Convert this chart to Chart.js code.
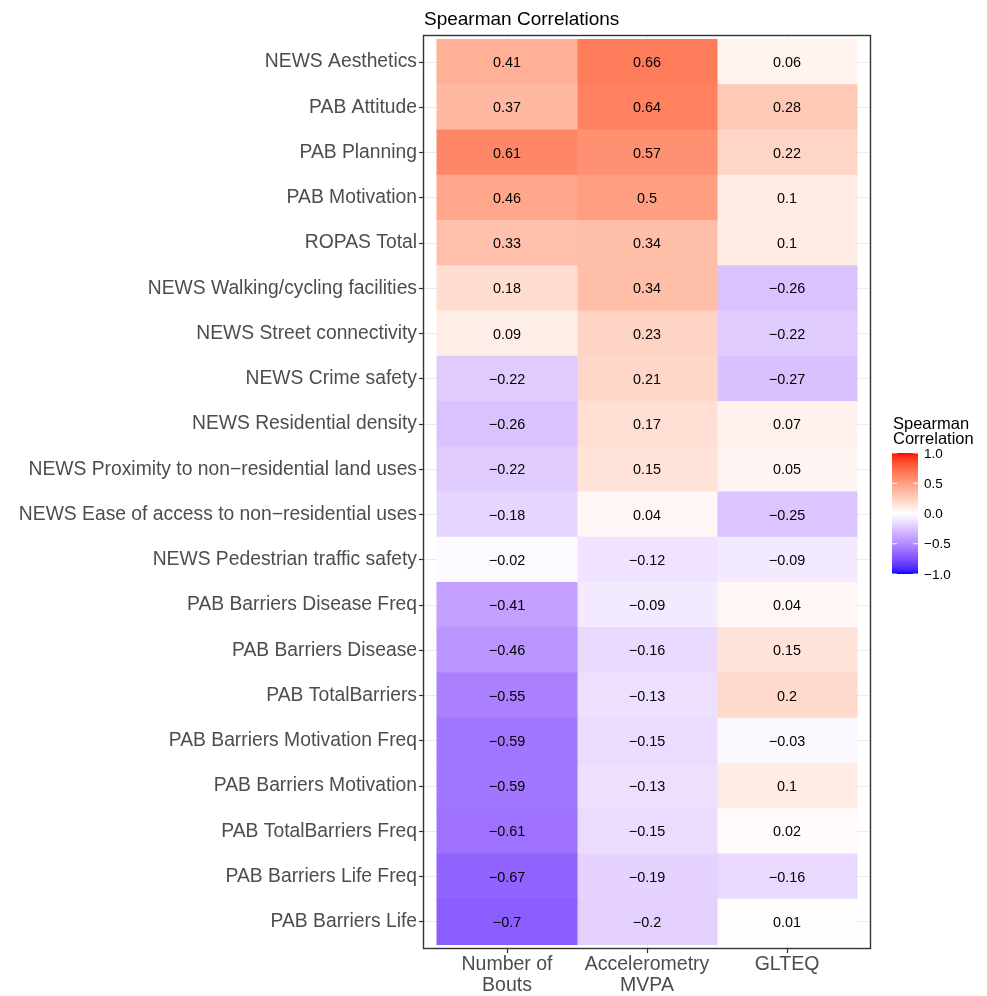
<!DOCTYPE html>
<html><head><meta charset="utf-8">
<script src="https://cdn.jsdelivr.net/npm/chart.js@4.4.1/dist/chart.umd.min.js"></script>
<style>html,body{margin:0;padding:0;background:#fff;}#wrap{width:987px;height:996px;position:relative;}</style>
</head><body><div id="wrap"><canvas id="c" width="987" height="996"></canvas></div>
<script>
const rowLabels = [
  "NEWS Aesthetics","PAB Attitude","PAB Planning","PAB Motivation","ROPAS Total",
  "NEWS Walking/cycling facilities","NEWS Street connectivity","NEWS Crime safety",
  "NEWS Residential density","NEWS Proximity to non\u2212residential land uses",
  "NEWS Ease of access to non\u2212residential uses","NEWS Pedestrian traffic safety",
  "PAB Barriers Disease Freq","PAB Barriers Disease","PAB TotalBarriers",
  "PAB Barriers Motivation Freq","PAB Barriers Motivation","PAB TotalBarriers Freq",
  "PAB Barriers Life Freq","PAB Barriers Life"
];
const colLabels = [["Number of","Bouts"],["Accelerometry","MVPA"],["GLTEQ"]];
const bouts = [0.41,0.37,0.61,0.46,0.33,0.18,0.09,-0.22,-0.26,-0.22,-0.18,-0.02,-0.41,-0.46,-0.55,-0.59,-0.59,-0.61,-0.67,-0.7];
const mvpa  = [0.66,0.64,0.57,0.5,0.34,0.34,0.23,0.21,0.17,0.15,0.04,-0.12,-0.09,-0.16,-0.13,-0.15,-0.13,-0.15,-0.19,-0.2];
const glteq = [0.06,0.28,0.22,0.1,0.1,-0.26,-0.22,-0.27,0.07,0.05,-0.25,-0.09,0.04,0.15,0.2,-0.03,0.1,0.02,-0.16,0.01];
const legendBreaks = [1.0,0.5,0.0,-0.5,-1.0];
const titleText = "Spearman Correlations";
const legendTitle = ["Spearman","Correlation"];

// --- Lab interpolation like scales::div_gradient_pal ---
function toLin(c){c/=255;return c<=0.04045?c/12.92:Math.pow((c+0.055)/1.055,2.4);}
function fromLin(c){const v=c<=0.0031308?12.92*c:1.055*Math.pow(c,1/2.4)-0.055;return Math.max(0,Math.min(255,Math.round(v*255)));}
const Xn=0.95047,Yn=1,Zn=1.08883;
function f(t){return t>0.008856?Math.cbrt(t):7.787*t+16/116;}
function finv(t){return t*t*t>0.008856?t*t*t:(t-16/116)/7.787;}
function rgb2lab(r,g,b){r=toLin(r);g=toLin(g);b=toLin(b);
  const X=0.4124564*r+0.3575761*g+0.1804375*b,Y=0.2126729*r+0.7151522*g+0.0721750*b,Z=0.0193339*r+0.1191920*g+0.9503041*b;
  const fx=f(X/Xn),fy=f(Y/Yn),fz=f(Z/Zn);return [116*fy-16,500*(fx-fy),200*(fy-fz)];}
function lab2rgb(L,a,b){const fy=(L+16)/116,fx=fy+a/500,fz=fy-b/200;
  const X=Xn*finv(fx),Y=Yn*finv(fy),Z=Zn*finv(fz);
  const r=3.2404542*X-1.5371385*Y-0.4985314*Z,g=-0.9692660*X+1.8760108*Y+0.0415560*Z,bb=0.0556434*X-0.2040259*Y+1.0572252*Z;
  return `rgb(${fromLin(r)},${fromLin(g)},${fromLin(bb)})`;}
const LAB_LOW=rgb2lab(0,0,255),LAB_MID=rgb2lab(255,255,255),LAB_HIGH=rgb2lab(255,0,0);
function fillColor(v){const t=Math.max(-1,Math.min(1,v));const end=t>=0?LAB_HIGH:LAB_LOW;const k=Math.abs(t);
  return lab2rgb(LAB_MID[0]+(end[0]-LAB_MID[0])*k,LAB_MID[1]+(end[1]-LAB_MID[1])*k,LAB_MID[2]+(end[2]-LAB_MID[2])*k);}
const fmt=v=>String(v).replace('-','\u2212');

const FONT='"Liberation Sans", Arial, Helvetica, sans-serif';
const columns=[bouts,mvpa,glteq];
const datasets=columns.map((vals,c)=>({
  data: vals.map((v,i)=>({y:i+1,x:[c+0.5,c+1.5]})),
  backgroundColor: vals.map(fillColor),
  borderWidth:0, grouped:false, barPercentage:1, categoryPercentage:1, inflateAmount:0.5
}));

const overlay={id:'overlay',
  afterDatasetsDraw(chart){
    const ctx=chart.ctx,a=chart.chartArea;
    ctx.save();
    ctx.font='14.4px '+FONT;ctx.fillStyle='#000';ctx.textAlign='center';ctx.textBaseline='middle';
    chart.data.datasets.forEach((ds,di)=>{
      chart.getDatasetMeta(di).data.forEach((el,i)=>{
        ctx.fillText(fmt(columns[di][i]),(el.x+el.base)/2,el.y+1);
      });
    });
    ctx.strokeStyle='#333';ctx.lineWidth=1.4;
    ctx.strokeRect(a.left+0.5,a.top+0.5,a.right-a.left-1,a.bottom-a.top-1);
    // title
    ctx.textAlign='left';ctx.textBaseline='alphabetic';ctx.fillStyle='#000';
    ctx.font='19px '+FONT;ctx.fillText(titleText,a.left+1,25);
    // legend colorbar
    const bx=892,bw=26,by=453,bh=121;
    const g=ctx.createLinearGradient(0,by,0,by+bh);
    for(let s=0;s<=40;s++){g.addColorStop(s/40,fillColor(1-2*s/40));}
    ctx.fillStyle=g;ctx.fillRect(bx,by,bw,bh);
    ctx.fillStyle='#000';ctx.font='16.5px '+FONT;
    ctx.fillText(legendTitle[0],bx+1,429);ctx.fillText(legendTitle[1],bx+1,444);
    ctx.font='13.5px '+FONT;ctx.textBaseline='middle';
    legendBreaks.forEach(b=>{
      const y=by+(1-b)/2*bh;
      ctx.strokeStyle='rgba(255,255,255,0.9)';ctx.lineWidth=1;
      ctx.beginPath();ctx.moveTo(bx,y);ctx.lineTo(bx+5,y);ctx.moveTo(bx+bw-5,y);ctx.lineTo(bx+bw,y);ctx.stroke();
      ctx.fillStyle='#000';ctx.fillText(fmt(b.toFixed(1)),bx+bw+6,y+1);
    });
    ctx.restore();
  }
};

new Chart(document.getElementById('c'),{
  type:'bar',
  data:{datasets},
  options:{
    responsive:false,animation:false,devicePixelRatio:1,indexAxis:'y',
    layout:{padding:{left:0,right:116,top:35,bottom:0}},
    plugins:{legend:{display:false},tooltip:{enabled:false},title:{display:false}},
    scales:{
      x:{type:'linear',min:0.4,max:3.6,position:'bottom',offset:false,
        afterBuildTicks(s){s.ticks=colLabels.map((_,i)=>({value:i+1}));},
        afterFit(s){s.height=47;},
        ticks:{callback:(v)=>colLabels[v-1],color:'#4D4D4D',font:{family:FONT,size:19.5,lineHeight:1.03},padding:2,maxRotation:0,autoSkip:false},
        grid:{offset:false,color:'#EBEBEB',lineWidth:1,tickColor:'#333',tickLength:4,tickWidth:1.2},
        border:{display:false}},
      y:{type:'linear',min:0.4,max:20.6,reverse:true,offset:false,
        afterBuildTicks(s){s.ticks=rowLabels.map((_,i)=>({value:i+1}));},
        afterFit(s){s.width=423;},
        ticks:{callback:(v)=>rowLabels[v-1],color:'#4D4D4D',font:{family:FONT,size:19.3},padding:2,autoSkip:false},
        grid:{offset:false,color:'#EBEBEB',lineWidth:1,tickColor:'#333',tickLength:4,tickWidth:1.2},
        border:{display:false}}
    }
  },
  plugins:[overlay]
});
</script></body></html>
